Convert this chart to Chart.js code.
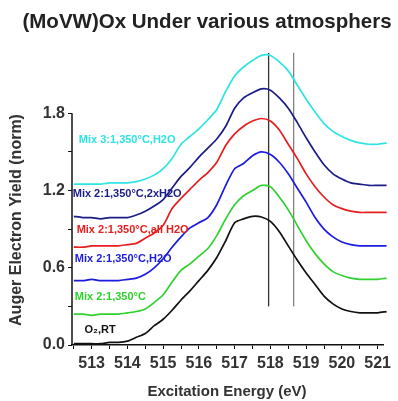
<!DOCTYPE html>
<html>
<head>
<meta charset="utf-8">
<script src="https://cdn.jsdelivr.net/npm/chart.js@4.4.0/dist/chart.umd.min.js"></script>
<style>
  html, body { margin: 0; padding: 0; background: #fff; }
  #wrap { width: 398px; height: 401px; position: relative; }
</style>
</head>
<body>
<div id="wrap"><canvas id="myChart"></canvas></div>
<script>
// excitation energy grid (eV)
const energies = [512.5, 512.75, 513, 513.25, 513.5, 513.75, 514, 514.25, 514.5, 514.75,
  515, 515.25, 515.5, 515.75, 516, 516.25, 516.5, 516.75, 517, 517.25, 517.5, 517.75,
  518, 518.25, 518.5, 518.75, 519, 519.25, 519.5, 519.75, 520, 520.25, 520.5, 520.75, 521, 521.25];

const o2rt = [0.01, 0.01, 0.01, 0.01, 0.02, 0.02, 0.03, 0.06, 0.09, 0.15,
  0.20, 0.27, 0.35, 0.42, 0.50, 0.58, 0.68, 0.81, 0.95, 0.98, 1.00, 0.995,
  0.96, 0.88, 0.77, 0.66, 0.56, 0.47, 0.38, 0.32, 0.28, 0.26, 0.25, 0.25, 0.25, 0.26];

const mix2 = [0.24, 0.24, 0.23, 0.24, 0.24, 0.24, 0.25, 0.26, 0.28, 0.33,
  0.39, 0.49, 0.58, 0.63, 0.69, 0.75, 0.85, 0.98, 1.09, 1.16, 1.20, 1.24,
  1.23, 1.15, 1.05, 0.93, 0.81, 0.71, 0.63, 0.57, 0.54, 0.52, 0.51, 0.51, 0.51, 0.52];

const mix2H2O = [0.50, 0.50, 0.51, 0.50, 0.50, 0.50, 0.51, 0.52, 0.55, 0.60,
  0.67, 0.76, 0.84, 0.91, 0.95, 0.99, 1.09, 1.24, 1.37, 1.41, 1.47, 1.50,
  1.48, 1.42, 1.33, 1.22, 1.11, 0.99, 0.90, 0.84, 0.80, 0.78, 0.77, 0.77, 0.77, 0.77];

const mix2AllH2O = [0.76, 0.76, 0.77, 0.77, 0.77, 0.77, 0.78, 0.79, 0.83, 0.87,
  0.93, 1.06, 1.14, 1.21, 1.28, 1.34, 1.42, 1.55, 1.64, 1.70, 1.74, 1.76,
  1.74, 1.67, 1.56, 1.45, 1.33, 1.23, 1.15, 1.09, 1.06, 1.04, 1.03, 1.03, 1.03, 1.03];

const mix2x2H2O = [1.00, 0.99, 0.99, 0.98, 0.99, 0.99, 0.99, 1.01, 1.04, 1.08,
  1.13, 1.22, 1.31, 1.38, 1.46, 1.53, 1.60, 1.70, 1.84, 1.92, 1.96, 1.99,
  1.98, 1.92, 1.84, 1.73, 1.61, 1.50, 1.40, 1.33, 1.29, 1.26, 1.25, 1.24, 1.24, 1.24];

const mix3H2O = [1.25, 1.25, 1.25, 1.25, 1.26, 1.26, 1.26, 1.27, 1.29, 1.32,
  1.37, 1.45, 1.56, 1.62, 1.68, 1.75, 1.83, 1.97, 2.09, 2.16, 2.21, 2.25,
  2.25, 2.20, 2.13, 2.02, 1.91, 1.81, 1.72, 1.66, 1.62, 1.59, 1.57, 1.56, 1.56, 1.57];

// the two vertical guide lines
const markerEnergies = [517.95, 518.65];
const markerRange = [0.30, 2.27];

const seriesNames = ["O₂,RT", "Mix 2:1,350°C", "Mix 2:1,350°C,H2O",
  "Mix 2:1,350°C,all H2O", "Mix 2:1,350°C,2xH2O", "Mix 3:1,350°C,H2O"];
const seriesValues = [o2rt, mix2, mix2H2O, mix2AllH2O, mix2x2H2O, mix3H2O];
const seriesColors = ["#111111", "#2fd12f", "#1c1ce0", "#e61e1e", "#1c1c86", "#2ee3e3"];

// where each curve's label sits, in axis units (energy, yield)
const labelSpots = [[512.8, 0.12], [512.53, 0.37], [512.53, 0.67],
  [512.58, 0.89], [512.47, 1.17], [512.64, 1.59]];

const datasets = seriesValues.map((vals, i) => ({
  label: seriesNames[i],
  data: energies.map((e, j) => ({ x: e, y: vals[j] })),
  borderColor: seriesColors[i],
  borderWidth: 1.7,
  pointRadius: 0,
  tension: 0.25,
  clip: false,
}));

markerEnergies.forEach((e, i) => {
  datasets.push({
    label: "marker" + i,
    data: [{ x: e, y: markerRange[0] }, { x: e, y: markerRange[1] }],
    borderColor: i === 0 ? "#333333" : "#808080",
    borderWidth: 1.3,
    pointRadius: 0,
  });
});

const textPlugin = {
  id: "textPlugin",
  afterDraw(chart) {
    const ctx = chart.ctx;
    const xs = chart.scales.x;
    const ys = chart.scales.y;
    ctx.save();

    // y axis line, stops at the top tick
    ctx.strokeStyle = "#111";
    ctx.lineWidth = 1.5;
    ctx.beginPath();
    ctx.moveTo(chart.chartArea.left, ys.getPixelForValue(0));
    ctx.lineTo(chart.chartArea.left, ys.getPixelForValue(1.8));
    ctx.stroke();

    // curve labels
    ctx.font = "bold 11px Arial, 'Liberation Sans', sans-serif";
    ctx.textBaseline = "middle";
    ctx.textAlign = "left";
    labelSpots.forEach((p, i) => {
      ctx.fillStyle = seriesColors[i];
      ctx.fillText(seriesNames[i], xs.getPixelForValue(p[0]), ys.getPixelForValue(p[1]));
    });

    // title
    ctx.fillStyle = "#222";
    ctx.textAlign = "center";
    ctx.font = "bold 20.5px Arial, 'Liberation Sans', sans-serif";
    ctx.fillText("(MoVW)Ox Under various atmosphers", 207, 22);

    // axis titles
    ctx.font = "bold 15px Arial, 'Liberation Sans', sans-serif";
    ctx.fillStyle = "#333";
    ctx.fillText("Excitation Energy (eV)", 227, 392);
    ctx.font = "bold 16px Arial, 'Liberation Sans', sans-serif";
    ctx.translate(17, 220);
    ctx.rotate(-Math.PI / 2);
    ctx.fillText("Auger Electron Yield (norm)", 0, 0);
    ctx.restore();
  },
};

const ctx = document.getElementById("myChart").getContext("2d");
const myChart = new Chart(ctx, {
  type: "line",
  data: { datasets: datasets },
  options: {
    responsive: true,
    maintainAspectRatio: false,
    animation: false,
    layout: { padding: { top: 49, right: 15, left: 0, bottom: 0 } },
    plugins: {
      legend: { display: false },
      tooltip: { enabled: false },
    },
    scales: {
      x: {
        type: "linear",
        min: 512.45,
        max: 521.15,
        afterFit: (scale) => { scale.height = 56; },
        border: { display: true, color: "#111", width: 1.5 },
        grid: { drawOnChartArea: false, tickLength: 4, color: "#111" },
        ticks: {
          stepSize: 0.5,
          includeBounds: false,
          autoSkip: false,
          maxRotation: 0,
          padding: 5,
          color: "#333",
          font: { family: "Arial, 'Liberation Sans', sans-serif", size: 16, weight: "bold" },
          callback: (v) => (Math.abs(v - Math.round(v)) < 0.01 ? String(Math.round(v)) : ""),
        },
      },
      y: {
        type: "linear",
        min: 0,
        max: 2.3,
        afterFit: (scale) => { scale.width = 72; },
        afterBuildTicks: (scale) => {
          scale.ticks = scale.ticks.filter((t) => t.value <= 1.81);
        },
        border: { display: false },
        grid: { drawOnChartArea: false, tickLength: 4, color: "#111" },
        ticks: {
          stepSize: 0.3,
          autoSkip: false,
          padding: 3,
          color: "#333",
          font: { family: "Arial, 'Liberation Sans', sans-serif", size: 16, weight: "bold" },
          callback: (v) => (Math.round(v * 10) % 6 === 0 ? v.toFixed(1) : ""),
        },
      },
    },
  },
  plugins: [textPlugin],
});
</script>
</body>
</html>
